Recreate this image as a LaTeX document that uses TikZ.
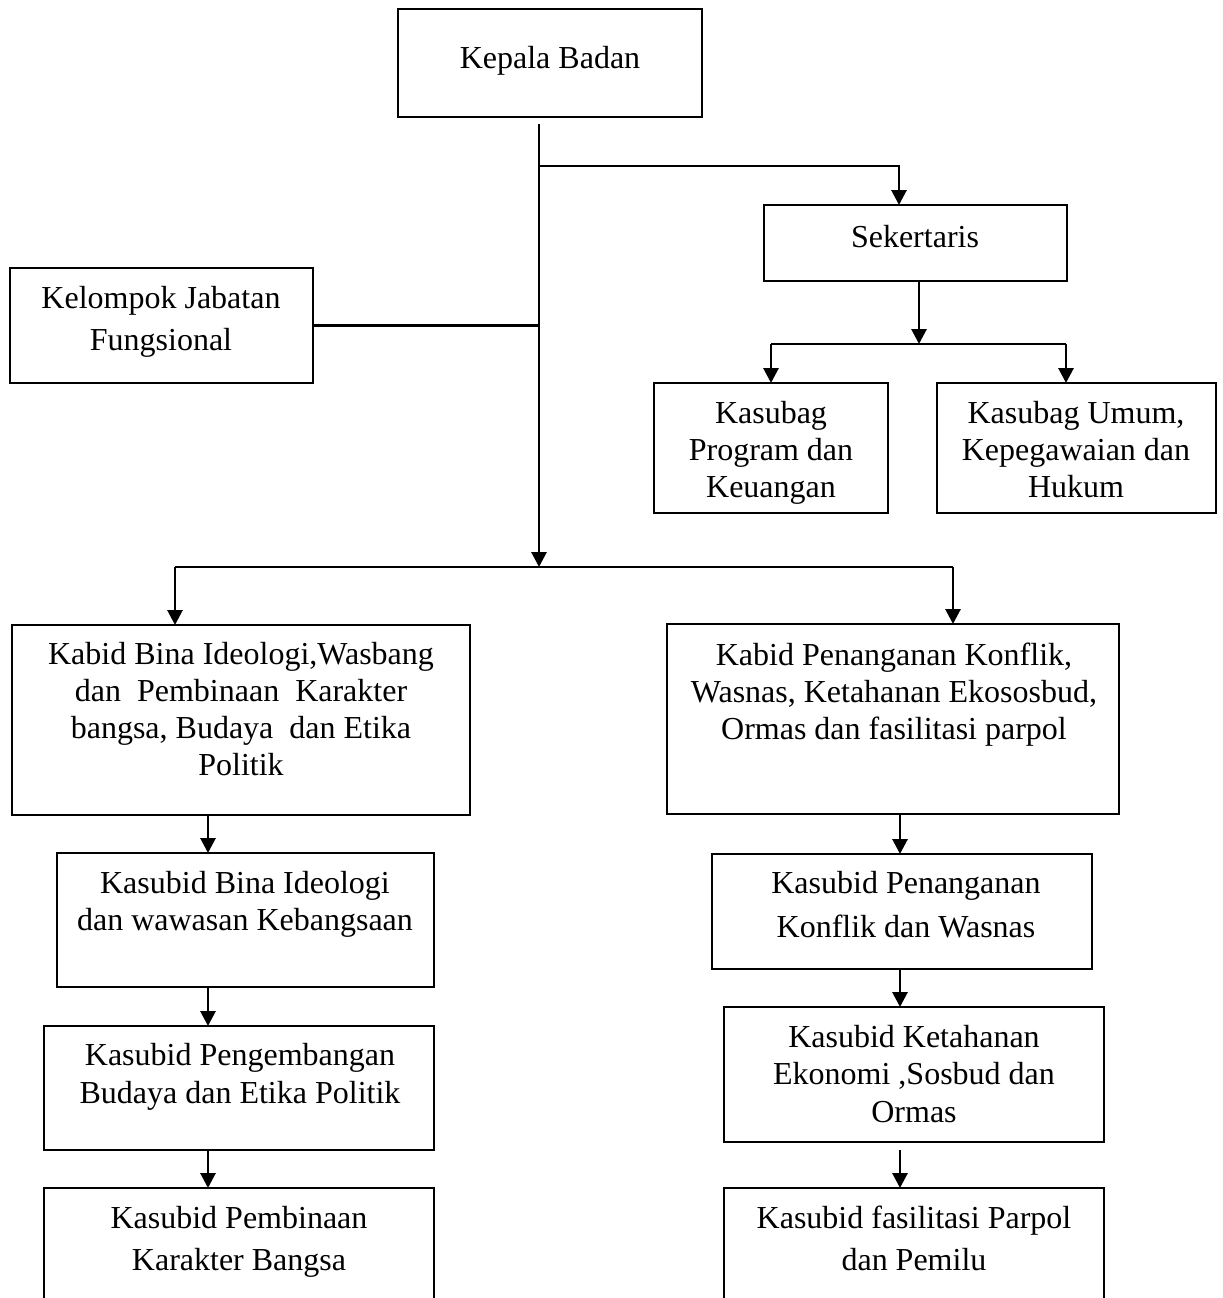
\documentclass[tikz,border=0pt]{standalone}
\usepackage{fontspec}
\setmainfont{Liberation Serif}
\usetikzlibrary{arrows.meta,calc}
\begin{document}
\begin{tikzpicture}[x=1pt,y=-1pt,
  box/.style={draw=black,line width=2.4pt,inner sep=0pt,outer sep=0pt,rectangle},
  conn/.style={draw=black,line width=2.9pt},
  arr/.style={conn,-{Triangle[length=15pt,width=15pt]}},
  txt/.style={inner sep=0pt,align=center,anchor=north,font=\fontsize{32pt}{#1}\selectfont},
  txt/.default={37pt},
  lone/.style={inner sep=0pt,anchor=base,font=\fontsize{32pt}{37pt}\selectfont}]
\useasboundingbox (0,0) rectangle (1223,1298);
\clip (0,0) rectangle (1223,1298);
\fill[white] (0,0) rectangle (1223,1298);

% boxes
\node[box,minimum width=304pt,minimum height=108pt] (kepala) at (550,63) {};
\node[box,minimum width=303pt,minimum height=76pt] (sek) at (915.5,243) {};
\node[box,minimum width=303pt,minimum height=115pt] (kel) at (161.5,325.5) {};
\node[box,minimum width=234pt,minimum height=130pt] (kp) at (771,448) {};
\node[box,minimum width=279pt,minimum height=130pt] (ku) at (1076.5,448) {};
\node[box,minimum width=458pt,minimum height=190pt] (kabidL) at (241,720) {};
\node[box,minimum width=452pt,minimum height=190pt] (kabidR) at (893,719) {};
\node[box,minimum width=377pt,minimum height=134pt] (sbLa) at (245.5,920) {};
\node[box,minimum width=390pt,minimum height=124pt] (sbLb) at (239,1088) {};
\node[box,minimum width=390pt,minimum height=132pt] (sbLc) at (239,1254) {};
\node[box,minimum width=380pt,minimum height=115pt] (sbRa) at (902,911.5) {};
\node[box,minimum width=380pt,minimum height=135pt] (sbRb) at (914,1074.5) {};
\node[box,minimum width=380pt,minimum height=132pt] (sbRc) at (914,1254) {};

% texts
\node[lone] (tkepala) at (550,68) {Kepala Badan};
\node[lone] (tsek) at (915,247) {Sekertaris};
\node[txt=42pt] (tkel) at (161,286) {Kelompok Jabatan\\Fungsional};
\node[txt] (tkp) at (771,401) {Kasubag\\Program dan\\Keuangan};
\node[txt] (tku) at (1076,401) {Kasubag Umum,\\Kepegawaian dan\\Hukum};
\node[txt] (tkabidL) at (241,642) {Kabid Bina Ideologi,Wasbang\\dan~ Pembinaan~ Karakter\\bangsa, Budaya~ dan Etika\\Politik};
\node[txt] (tkabidR) at (894,643) {Kabid Penanganan Konflik,\\Wasnas, Ketahanan Ekososbud,\\Ormas dan fasilitasi parpol};
\node[txt] (tsbLa) at (245,871) {Kasubid Bina Ideologi\\dan wawasan Kebangsaan};
\node[txt=38pt] (tsbLb) at (240,1043) {Kasubid Pengembangan\\Budaya dan Etika Politik};
\node[txt=42pt] (tsbLc) at (239,1206) {Kasubid Pembinaan\\Karakter Bangsa};
\node[txt=44pt] (tsbRa) at (906,871) {Kasubid Penanganan\\Konflik dan Wasnas};
\node[txt=37.5pt] (tsbRb) at (914,1025) {Kasubid Ketahanan\\Ekonomi ,Sosbud dan\\Ormas};
\node[txt=42pt] (tsbRc) at (914,1206) {Kasubid fasilitasi Parpol\\dan Pemilu};

% connector coordinates
\coordinate (t0) at (539,124);
\coordinate (tb) at (539,567);
\coordinate (ts) at (539,166);
\coordinate (hs) at (899,166);
\coordinate (sx) at (919,344);
\coordinate (sl) at (771,344);
\coordinate (sr) at (1066,344);
\coordinate (bl) at (175,567);
\coordinate (br) at (953,567);
\coordinate (lx) at (208,0);
\coordinate (rx) at (900,0);

% connectors
\draw[arr] (t0) -- (tb);
\draw[arr] (ts) -| (sek.north -| hs);
\draw[conn] (kel.east) -- (kel.east -| t0);
\draw[arr] (sek.south -| sx) -- (sx);
\draw[conn] (sl) -- (sr);
\draw[arr] (sl) -- (kp.north -| sl);
\draw[arr] (sr) -- (ku.north -| sr);
\draw[conn] (bl) -- (br);
\draw[arr] (bl) -- (kabidL.north -| bl);
\draw[arr] (br) -- (kabidR.north -| br);
\draw[arr] (kabidL.south -| lx) -- (sbLa.north -| lx);
\draw[arr] (sbLa.south -| lx) -- (sbLb.north -| lx);
\draw[arr] (sbLb.south -| lx) -- (sbLc.north -| lx);
\draw[arr] (kabidR.south -| rx) -- (sbRa.north -| rx);
\draw[arr] (sbRa.south -| rx) -- (sbRb.north -| rx);
\draw[arr] ($(sbRb.south -| rx)+(0,8)$) -- (sbRc.north -| rx);
\end{tikzpicture}
\end{document}
